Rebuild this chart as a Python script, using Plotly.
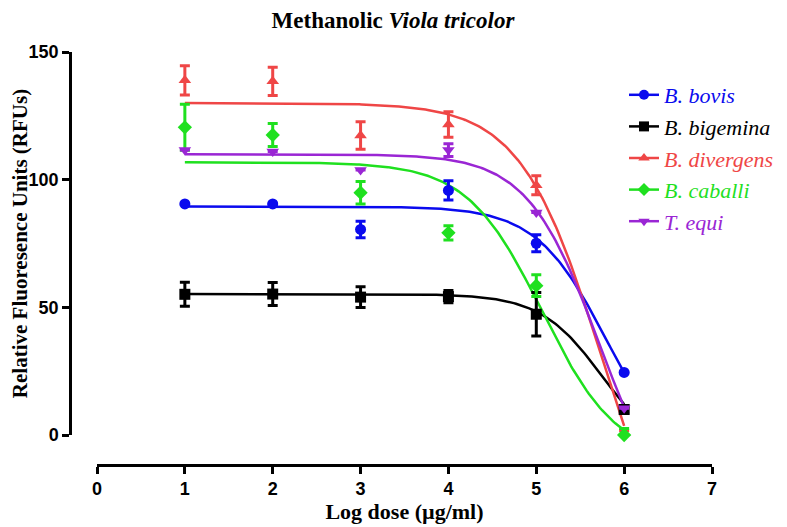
import numpy as np
import plotly.graph_objects as go

# ---- data ----
log_dose = [1, 2, 3, 4, 5, 6]
series_names = ["B. bovis", "B. bigemina", "B. divergens", "B. caballi", "T. equi"]

bovis_mean = [90.5, 90.5, 80.5, 95.8, 75.1, 24.5]
bovis_err = [None, None, 3.2, 3.8, 3.3, None]
bigemina_mean = [55.1, 55.2, 54.0, 54.2, 47.3, 10.0]
bigemina_err = [4.7, 4.5, 4.1, 2.4, 8.5, 1.5]
divergens_mean = [138.9, 138.5, 117.3, 121.6, 97.8, 0.8]
divergens_err = [5.7, 5.5, 5.4, 5.0, 3.7, 1.0]
caballi_mean = [120.5, 117.5, 94.9, 79.2, 58.5, 0.0]
caballi_err = [9.0, 4.5, 4.4, 2.8, 4.3, 2.5]
equi_mean = [111.6, 111.0, 103.8, 111.6, 87.1, 10.5]
equi_err = [None, None, None, 2.5, None, None]

# four-parameter logistic fit parameters
fit_top = [89.5, 55.2, 130.0, 106.8, 110.0]
fit_bottom = [-15.0, -10.0, -70.0, -10.0, -40.0]
fit_logec50 = [5.799, 5.76, 5.75, 5.067, 5.726]
fit_hill = [1.085, 1.22, 0.94, 1.016, 1.057]

x_ticks = [0, 1, 2, 3, 4, 5, 6, 7]
y_ticks = [0, 50, 100, 150]

# ---- styling ----
colors = ["#0a0aee", "#000000", "#ef4646", "#1fe01f", "#9a26d4"]
symbols = ["circle", "square", "triangle-up", "diamond", "triangle-down"]
means = [bovis_mean, bigemina_mean, divergens_mean, caballi_mean, equi_mean]
errs = [bovis_err, bigemina_err, divergens_err, caballi_err, equi_err]

fig = go.Figure()

xs = np.linspace(min(log_dose), max(log_dose), 200)
for i in range(5):
    ys = fit_bottom[i] + (fit_top[i] - fit_bottom[i]) / (1 + 10 ** ((xs - fit_logec50[i]) * fit_hill[i]))
    fig.add_trace(go.Scatter(x=xs, y=ys, mode="lines", showlegend=False,
                             line=dict(color=colors[i], width=2.5), hoverinfo="skip"))

for i in range(5):
    fig.add_trace(go.Scatter(
        x=log_dose, y=means[i], mode="markers", showlegend=False, cliponaxis=False,
        marker=dict(symbol=symbols[i], size=11, color=colors[i]),
        error_y=dict(type="data", array=errs[i], visible=True, color=colors[i],
                     thickness=3, width=5)))

for i in range(5):
    fig.add_trace(go.Scatter(
        x=[None], y=[None], mode="lines+markers",
        name="<i><span style='color:%s'>%s</span></i>" % (colors[i], series_names[i]),
        marker=dict(symbol=symbols[i], size=10, color=colors[i]),
        line=dict(color=colors[i], width=2.5)))

# page has an 8px body margin, so the figure is sized/positioned to compensate
W, H = 779, 519
L, R, T, B = 62, 75, 44, 62
pw, ph = W - L - R, H - T - B

axis_common = dict(showline=True, linecolor="black", linewidth=2.5, ticks="outside",
                   ticklen=7, tickwidth=2.5, tickcolor="black", showgrid=False,
                   zeroline=False, anchor="free", position=0, automargin=False,
                   tickfont=dict(family="Liberation Sans", size=18, color="black", weight="bold"))

fig.update_layout(
    width=W, height=H,
    margin=dict(l=L, r=R, t=T, b=B, autoexpand=False),
    paper_bgcolor="white", plot_bgcolor="white",
    title=dict(text="<b>Methanolic <i>Viola tricolor</i></b>", x=(393 - 8) / W, xref="container",
               xanchor="center", y=1 - 12 / H, yref="container", yanchor="middle",
               font=dict(family="Liberation Serif", size=23, color="black")),
    xaxis=dict(range=[0, 7], domain=[27 / pw, 1], tickvals=x_ticks,
               title=dict(text="<b>Log dose (µg/ml)</b>", standoff=3,
                          font=dict(family="Liberation Serif", size=22, color="black")),
               **axis_common),
    yaxis=dict(range=[0, 150], domain=[30 / ph, 1], tickvals=y_ticks,
               title=dict(text="<b>Relative Fluoresence Units (RFUs)</b>", standoff=6,
                          font=dict(family="Liberation Serif", size=21, color="black")),
               **axis_common),
    legend=dict(x=(616 - L) / pw, y=1 - (66 - T) / ph, xanchor="left", yanchor="top",
                font=dict(family="Liberation Serif", size=22, color="black"),
                bgcolor="rgba(0,0,0,0)", itemwidth=30),
    showlegend=True,
)

fig.write_html("out.html")
